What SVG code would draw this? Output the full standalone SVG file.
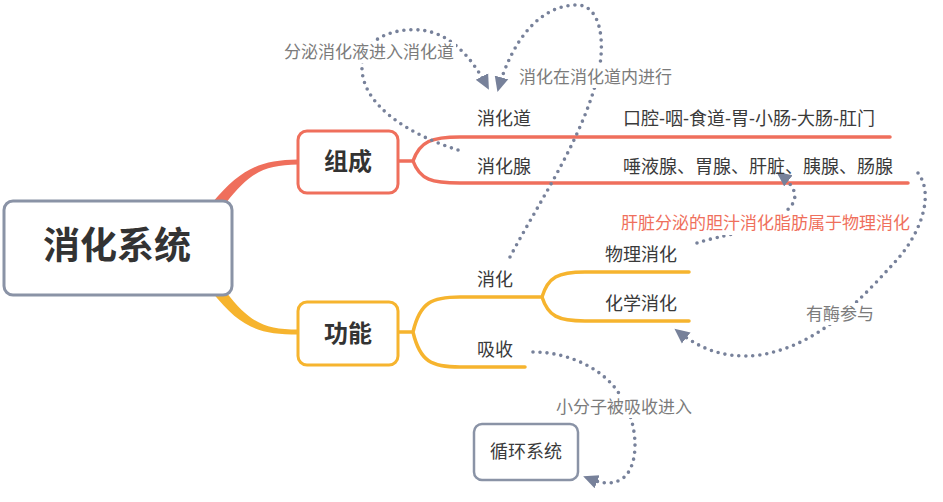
<svg xmlns="http://www.w3.org/2000/svg" width="943" height="502" viewBox="0 0 943 502">
<style>
text{font-family:"Liberation Sans","Noto Sans CJK SC",sans-serif;dominant-baseline:central}
.t{font-size:18px;fill:#3a3a3a}
.lbl{font-size:17px;fill:#7b7b7b}
.red{font-size:17px;fill:#ef6f5c}
.rl{fill:none;stroke:#ef6f5c;stroke-width:3.5;stroke-linecap:round}
.yl{fill:none;stroke:#f6b42e;stroke-width:3.5;stroke-linecap:round}
.dot{fill:none;stroke:#77819a;stroke-width:3.6;stroke-dasharray:0 7;stroke-linecap:round}
.bg{fill:#fff}
</style>
<defs>
<marker id="ah" markerUnits="userSpaceOnUse" markerWidth="16" markerHeight="16" refX="13" refY="8" orient="auto" viewBox="0 0 16 16">
<path d="M0,1 L15,8 L0,15 z" fill="#77819a"/>
</marker>
</defs>
<rect width="943" height="502" fill="#fff"/>
<g id="connectors">
<path d="M212 203 C240 170 258 160 298 159.5 L298 164.5 C265 165 250 172 226 203 Z" fill="#ef6f5c"/>
<path d="M212 292 C240 327 258 334.5 298 334.5 L298 329.5 C265 329.5 250 323 226 292 Z" fill="#f6b42e"/>
<path class="rl" d="M398 161 H413 M413 161 C420 141 432 137 460 137 H890 M413 161 C420 180 432 183 460 183 H908"/>
<path class="yl" d="M398 332 H413 M413 332 C420 302 432 297 460 297 H542 M413 332 C420 362 432 367 460 367 H525 M542 297 C548 277 558 272 585 272 H689 M542 297 C548 316 558 321 585 321 H689"/>
<path class="dot" d="M458 150 C410 135 360 105 362 65 C364 35 400 28 420 30 C445 32 468 50 488 88" marker-end="url(#ah)"/>
<path class="dot" d="M510 257 C540 200 582 140 598 75 C606 40 600 5 577 5 C540 5 512 40 498 90" marker-end="url(#ah)"/>
<path class="dot" d="M697 243 C720 235 760 232 785 212 C800 200 798 188 778 173" marker-end="url(#ah)"/>
<path class="dot" d="M918 173 C935 195 920 235 895 262 C860 300 820 345 760 355 C720 360 695 345 676 330" marker-end="url(#ah)"/>
<path class="dot" d="M533 352 C570 352 605 370 620 395 C640 425 640 470 620 480 C608 486 598 482 585 477" marker-end="url(#ah)"/>
<rect class="bg" x="282" y="42" width="174" height="21"/>
<text class="lbl" x="284" y="52">分泌消化液进入消化道</text>
<rect class="bg" x="517" y="66" width="158" height="22"/>
<text class="lbl" x="519" y="77">消化在消化道内进行</text>
<rect class="bg" x="619" y="212" width="292" height="23"/>
<text class="red" x="621" y="223">肝脏分泌的胆汁消化脂肪属于物理消化</text>
<rect class="bg" x="804" y="303" width="72" height="22"/>
<text class="lbl" x="806" y="314">有酶参与</text>
<rect class="bg" x="554" y="396" width="140" height="22"/>
<text class="lbl" x="556" y="407">小分子被吸收进入</text>
</g>
<g id="root">
<rect x="4" y="201" width="228" height="94" rx="9" fill="#fff" stroke="#8a93a6" stroke-width="3"/>
<text x="117" y="246" text-anchor="middle" font-size="37" font-weight="bold" fill="#333">消化系统</text>
</g>
<g id="zucheng">
<rect x="298" y="131" width="100" height="62" rx="9" fill="#fff" stroke="#ef6f5c" stroke-width="3"/>
<text x="348" y="161" text-anchor="middle" font-size="24" font-weight="bold" fill="#333">组成</text>
</g>
<g id="gongneng">
<rect x="298" y="302" width="100" height="63" rx="9" fill="#fff" stroke="#f6b42e" stroke-width="3"/>
<text x="348" y="333" text-anchor="middle" font-size="24" font-weight="bold" fill="#333">功能</text>
</g>
<g id="xiaohuadao"><text class="t" x="477" y="119">消化道</text></g>
<g id="xiaohuadao-detail"><text class="t" x="623" y="119">口腔-咽-食道-胃-小肠-大肠-肛门</text></g>
<g id="xiaohuaxian"><text class="t" x="477" y="167">消化腺</text></g>
<g id="xiaohuaxian-detail"><text class="t" x="623" y="167">唾液腺、胃腺、肝脏、胰腺、肠腺</text></g>
<g id="xiaohua"><text class="t" x="477" y="280">消化</text></g>
<g id="xishou"><text class="t" x="477" y="350">吸收</text></g>
<g id="wuli"><text class="t" x="605" y="255">物理消化</text></g>
<g id="huaxue"><text class="t" x="605" y="304">化学消化</text></g>
<g id="xunhuan">
<rect x="474" y="424" width="104" height="56" rx="8" fill="#fff" stroke="#8a93a6" stroke-width="2.5"/>
<text x="526" y="452" text-anchor="middle" font-size="18" fill="#3a3a3a">循环系统</text>
</g>
</svg>
